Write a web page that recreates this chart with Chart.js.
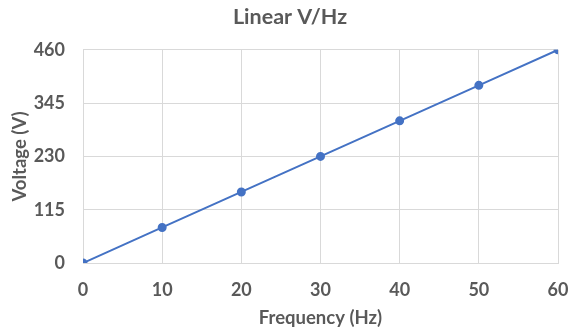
<!DOCTYPE html>
<html lang="en">

<head>
  <meta charset="UTF-8">
  <title>Linear V/Hz</title>
  <script src="https://cdn.jsdelivr.net/npm/chart.js@4.4.1/dist/chart.umd.min.js"></script>
  <style>
    html, body { margin: 0; padding: 0; background: #fff; }
    #wrap { width: 571px; height: 331px; }
  </style>
</head>

<body>
  <div id="wrap"><canvas id="chart" width="571" height="331"></canvas></div>

  <script>
    // frequency (Hz) and voltage (V)
    const frequencies = [0, 10, 20, 30, 40, 50, 60];
    const voltages = [0, 76.7, 153.3, 230, 306.7, 383.3, 460];
    const yTicks = [0, 115, 230, 345, 460];

    const grey = '#595959';
    const gridColor = '#d9d9d9';
    const font = 'Lato, Calibri, Carlito, sans-serif';

    drawChart();

    function drawChart() {
      const context = document.getElementById('chart').getContext('2d');
      const chart = new Chart(context, {
        type: 'line',
        data: {
          datasets: [
            {
              label: 'Voltage',
              data: frequencies.map((f, i) => ({ x: f, y: voltages[i] })),
              borderColor: '#4472C4',
              backgroundColor: '#4472C4',
              borderWidth: 2,
              pointRadius: 3.5,
              tension: 0
            }
          ]
        },
        options: {
          responsive: false,
          animation: false,
          layout: { padding: { left: 9, right: 0, top: 0, bottom: 2 } },
          plugins: {
            legend: { display: false },
            tooltip: { enabled: false },
            title: {
              display: true,
              text: 'Linear V/Hz',
              color: grey,
              font: { family: font, size: 21.5, weight: 'bold' },
              padding: { top: 4, bottom: 20 }
            }
          },
          scales: {
            x: {
              type: 'linear',
              min: 0,
              max: 60,
              afterFit: scale => { scale.paddingRight = 13; scale.height = 66; },
              ticks: { stepSize: 10, color: grey, font: { family: font, size: 18, weight: 'bold' }, padding: 16 },
              grid: { color: gridColor, drawTicks: false, tickLength: 0 },
              border: { color: gridColor },
              title: {
                display: true,
                text: 'Frequency (Hz)',
                color: grey,
                font: { family: font, size: 18.5, weight: 'bold' },
                padding: { top: 0, bottom: 0 }
              }
            },
            y: {
              min: 0,
              max: 460,
              afterBuildTicks: axis => { axis.ticks = yTicks.map(v => ({ value: v })); },
              afterFit: scale => { scale.width = 74; },
              ticks: { color: grey, font: { family: font, size: 18, weight: 'bold' }, padding: 18 },
              grid: { color: gridColor, drawTicks: false, tickLength: 0 },
              border: { display: false },
              title: {
                display: true,
                text: 'Voltage (V)',
                color: grey,
                font: { family: font, size: 18.5, weight: 'bold' },
                padding: { top: 0, bottom: 0 }
              }
            }
          }
        }
      });
    }
  </script>
</body>

</html>
